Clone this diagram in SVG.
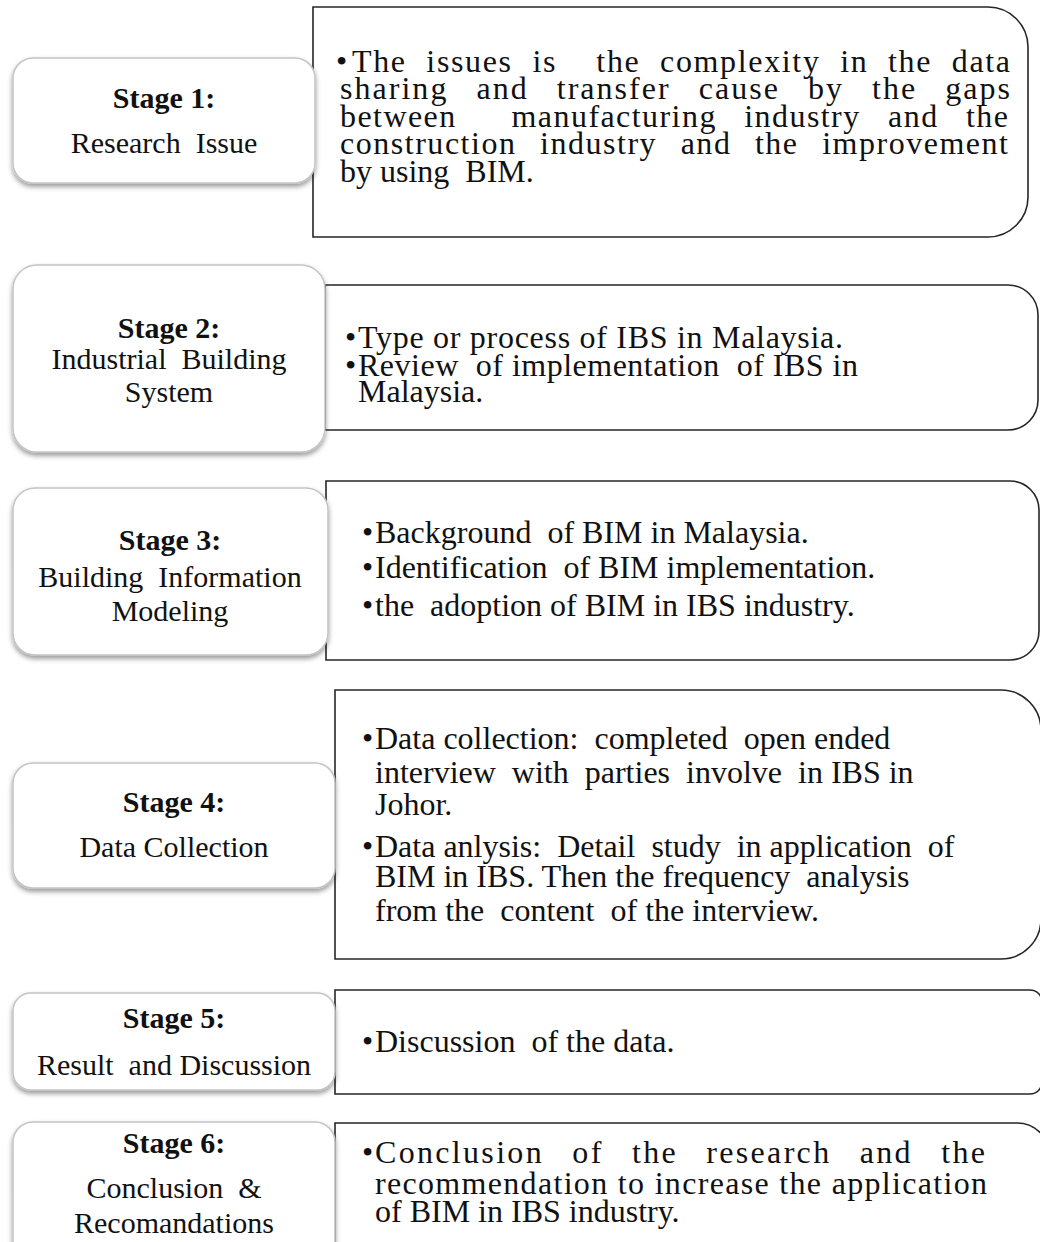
<svg xmlns="http://www.w3.org/2000/svg" width="1040" height="1242" viewBox="0 0 1040 1242">
<defs>
<filter id="sh" x="-10%" y="-10%" width="120%" height="130%">
<feDropShadow dx="0" dy="3" stdDeviation="2.5" flood-color="#000" flood-opacity="0.4"/>
</filter>
<style>
.lbl{fill:#fff;stroke:#c4c4c4;stroke-width:1.5;filter:url(#sh)}
.desc{fill:#fff;stroke:#262626;stroke-width:1.6}
text{font-family:"Liberation Serif","Times New Roman",serif;fill:#111}
.h{font-size:30px;font-weight:bold;text-anchor:middle}
.s{font-size:30px;text-anchor:middle}
.t{font-size:32px}
</style>
</defs>
<rect width="1040" height="1242" fill="#fff"/>
<g id="connectors"/>

<g id="stage1-desc">
<path class="desc" d="M313 7H988A40 40 0 0 1 1028 47V197A40 40 0 0 1 988 237H313Z"/>
<text class="t" x="336" y="72">•</text>
<text class="t" x="352" y="72" textLength="658" lengthAdjust="spacing" word-spacing="10" xml:space="preserve">The issues is  the complexity in the data</text>
<text class="t" x="340" y="99" textLength="670" lengthAdjust="spacing" word-spacing="18">sharing and transfer cause by the gaps</text>
<text class="t" x="340" y="127" textLength="668" lengthAdjust="spacing" word-spacing="18" xml:space="preserve">between  manufacturing industry and the</text>
<text class="t" x="340" y="154" textLength="668" lengthAdjust="spacing" word-spacing="14">construction industry and the improvement</text>
<text class="t" x="340" y="182" xml:space="preserve">by using  BIM.</text>
</g>
<g id="stage1-label">
<rect class="lbl" x="13" y="58" width="302" height="125" rx="20"/>
<text class="h" x="164" y="108">Stage 1:</text>
<text class="s" x="164" y="153" xml:space="preserve">Research  Issue</text>
</g>

<g id="stage2-desc">
<path class="desc" d="M325 285H1008A30 30 0 0 1 1038 315V400A30 30 0 0 1 1008 430H325Z"/>
<text class="t" x="345" y="348">•</text>
<text class="t" x="358" y="348" textLength="485" lengthAdjust="spacing">Type or process of IBS in Malaysia.</text>
<text class="t" x="345" y="376">•</text>
<text class="t" x="358" y="376" textLength="500" lengthAdjust="spacing" xml:space="preserve">Review  of implementation  of IBS in</text>
<text class="t" x="358" y="402">Malaysia.</text>
</g>
<g id="stage2-label">
<rect class="lbl" x="13" y="265" width="312" height="187" rx="24"/>
<text class="h" x="169" y="338">Stage 2:</text>
<text class="s" x="169" y="369" xml:space="preserve">Industrial  Building</text>
<text class="s" x="169" y="402">System</text>
</g>

<g id="stage3-desc">
<path class="desc" d="M326 481H1010A29 29 0 0 1 1039 510V631A29 29 0 0 1 1010 660H326Z"/>
<text class="t" x="362" y="543">•</text>
<text class="t" x="375" y="543" xml:space="preserve">Background  of BIM in Malaysia.</text>
<text class="t" x="362" y="578">•</text>
<text class="t" x="375" y="578" xml:space="preserve">Identification  of BIM implementation.</text>
<text class="t" x="362" y="616">•</text>
<text class="t" x="375" y="616" xml:space="preserve">the  adoption of BIM in IBS industry.</text>
</g>
<g id="stage3-label">
<rect class="lbl" x="13" y="488" width="315" height="167" rx="22"/>
<text class="h" x="170" y="550">Stage 3:</text>
<text class="s" x="170" y="587" xml:space="preserve">Building  Information</text>
<text class="s" x="170" y="621">Modeling</text>
</g>

<g id="stage4-desc">
<path class="desc" d="M335 690H1001A40 40 0 0 1 1041 730V919A40 40 0 0 1 1001 959H335Z"/>
<text class="t" x="362" y="749">•</text>
<text class="t" x="375" y="749" xml:space="preserve">Data collection:  completed  open ended</text>
<text class="t" x="375" y="783" xml:space="preserve">interview  with  parties  involve  in IBS in</text>
<text class="t" x="375" y="815">Johor.</text>
<text class="t" x="362" y="857">•</text>
<text class="t" x="375" y="857" xml:space="preserve">Data anlysis:  Detail  study  in application  of</text>
<text class="t" x="375" y="887" xml:space="preserve">BIM in IBS. Then the frequency  analysis</text>
<text class="t" x="375" y="921" xml:space="preserve">from the  content  of the interview.</text>
</g>
<g id="stage4-label">
<rect class="lbl" x="13" y="763" width="322" height="125" rx="20"/>
<text class="h" x="174" y="812">Stage 4:</text>
<text class="s" x="174" y="857">Data Collection</text>
</g>

<g id="stage5-desc">
<path class="desc" d="M335 990H1030A12 12 0 0 1 1042 1002V1082A12 12 0 0 1 1030 1094H335Z"/>
<text class="t" x="362" y="1052">•</text>
<text class="t" x="375" y="1052" xml:space="preserve">Discussion  of the data.</text>
</g>
<g id="stage5-label">
<rect class="lbl" x="13" y="993" width="322" height="97" rx="18"/>
<text class="h" x="174" y="1028">Stage 5:</text>
<text class="s" x="174" y="1075" xml:space="preserve">Result  and Discussion</text>
</g>

<g id="stage6-desc">
<path class="desc" d="M335 1123H1017A33 33 0 0 1 1050 1156V1260H335Z"/>
<text class="t" x="362" y="1163">•</text>
<text class="t" x="375" y="1163" textLength="610" lengthAdjust="spacing" word-spacing="18">Conclusion of the research and the</text>
<text class="t" x="375" y="1194" textLength="612" lengthAdjust="spacing">recommendation to increase the application</text>
<text class="t" x="375" y="1222">of BIM in IBS industry.</text>
</g>
<g id="stage6-label">
<rect class="lbl" x="13" y="1122" width="322" height="140" rx="20"/>
<text class="h" x="174" y="1153">Stage 6:</text>
<text class="s" x="174" y="1198" xml:space="preserve">Conclusion  &amp;</text>
<text class="s" x="174" y="1233">Recomandations</text>
</g>
</svg>
